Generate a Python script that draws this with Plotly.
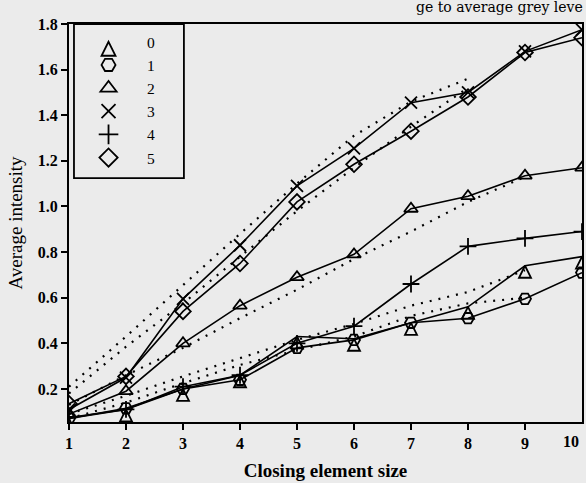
import plotly.graph_objects as go

# ---- data ----
closing_size = [1, 2, 3, 4, 5, 6, 7, 8, 9, 10]
series_names = ["0", "1", "2", "3", "4", "5"]
s0 = [0.07, 0.11, 0.20, 0.26, 0.43, 0.42, 0.49, 0.56, 0.74, 0.78]
s1 = [0.07, 0.115, 0.20, 0.24, 0.38, 0.415, 0.49, 0.51, 0.595, 0.71]
s2 = [0.09, 0.19, 0.40, 0.565, 0.69, 0.79, 0.99, 1.045, 1.135, 1.17]
s3 = [0.11, 0.25, 0.595, 0.83, 1.09, 1.255, 1.455, 1.50, 1.68, 1.775]
s4 = [0.075, 0.11, 0.21, 0.26, 0.40, 0.475, 0.66, 0.825, 0.86, 0.89]
s5 = [0.135, 0.255, 0.54, 0.75, 1.02, 1.185, 1.33, 1.48, 1.675, 1.74]

# dotted (fitted) curves
fit_x_8 = [1, 2, 3, 4, 5, 6, 7, 8]
fit_x_9 = [1, 2, 3, 4, 5, 6, 7, 8, 9]
fit_a = [0.21, 0.43, 0.655, 0.88, 1.10, 1.31, 1.46, 1.56]
fit_b = [0.18, 0.385, 0.575, 0.78, 0.98, 1.17, 1.35, 1.52]
fit_c = [0.13, 0.26, 0.38, 0.51, 0.635, 0.77, 0.89, 1.02, 1.13]
fit_d = [0.09, 0.17, 0.255, 0.335, 0.415, 0.485, 0.565, 0.625, 0.72]
fit_e = [0.07, 0.14, 0.225, 0.305, 0.37, 0.43, 0.52, 0.575, 0.60]

y_ticks = [0.2, 0.4, 0.6, 0.8, 1.0, 1.2, 1.4, 1.6, 1.8]
y_tick_text = ["0.2", "0.4", "0.6", "0.8", "1.0", "1.2", "1.4", "1.6", "1.8"]
x_ticks = closing_size
x_tick_text = [str(v) for v in closing_size]

series = [s0, s1, s2, s3, s4, s5]
symbols = ["arrow-up-open", "hexagon2-open", "triangle-up-open",
           "x-thin-open", "cross-thin-open", "diamond-open"]

FONT = "Liberation Serif"
fig = go.Figure()

dot_style = dict(color="black", width=2.2, dash="2px,7px")
for fx, fy in [(fit_x_8, fit_a), (fit_x_8, fit_b), (fit_x_9, fit_c),
               (fit_x_9, fit_d), (fit_x_9, fit_e)]:
    fig.add_trace(go.Scatter(x=fx, y=fy, mode="lines", line=dot_style,
                             showlegend=False, hoverinfo="skip"))

for name, ys, sym in zip(series_names, series, symbols):
    fig.add_trace(go.Scatter(
        x=closing_size, y=ys, mode="lines+markers", name=name,
        line=dict(color="black", width=1.6),
        marker=dict(symbol=sym, size=12, color="black",
                    line=dict(color="black", width=1.8)),
        showlegend=False, legendgroup=name))
    # legend entry: marker only
    fig.add_trace(go.Scatter(
        x=[None], y=[None], mode="markers", name=name, legendgroup=name,
        marker=dict(symbol=sym, size=14, color="black",
                    line=dict(color="black", width=1.8))))

# caption fragment above the chart
fig.add_annotation(text="ge to average grey leve", xref="paper", yref="paper",
                   x=1.006, y=1, xanchor="right", yanchor="bottom", yshift=7,
                   showarrow=False,
                   font=dict(family="DejaVu Serif", size=14, color="black"))

# last x tick label (sits just left of the right edge in the reference)
fig.add_annotation(text=x_tick_text[-1], xref="x", yref="paper",
                   x=closing_size[-1], y=0, xanchor="right", yanchor="top",
                   xshift=-1, yshift=-9, showarrow=False,
                   font=dict(family=FONT, size=16, weight="bold", color="black"))

# legend frame
fig.add_shape(type="rect", xref="paper", yref="paper",
              x0=0.0097, x1=0.224, y0=0.613, y1=1.0,
              line=dict(color="black", width=1.8), fillcolor="rgba(0,0,0,0)")

fig.update_layout(
    width=586, height=483,
    margin=dict(l=69, r=4, t=24, b=61, autoexpand=False),
    paper_bgcolor="#ebebeb", plot_bgcolor="#ebebeb",
    font=dict(family=FONT, color="black", size=16),
    legend=dict(x=0.002, y=0.997, xanchor="left", yanchor="top",
                bgcolor="rgba(0,0,0,0)", borderwidth=0,
                font=dict(family=FONT, size=15.5), itemwidth=67,
                tracegroupgap=0),
    xaxis=dict(range=[1, 10], tickvals=x_ticks[:-1], ticktext=x_tick_text[:-1],
               showgrid=False, zeroline=False, showline=True, linecolor="black",
               linewidth=2, mirror=True, ticks="outside", ticklen=6,
               tickwidth=1.5, tickcolor="black", automargin=False,
               tickfont=dict(family=FONT, size=16, weight="bold"),
               title=dict(text="Closing element size", standoff=12,
                          font=dict(family=FONT, size=19, weight="bold"))),
    yaxis=dict(range=[0.055, 1.8], tickvals=y_ticks, ticktext=y_tick_text,
               showgrid=False, zeroline=False, showline=True, linecolor="black",
               linewidth=2, mirror=True, ticks="outside", ticklen=6,
               tickwidth=1.5, tickcolor="black", automargin=False,
               tickfont=dict(family=FONT, size=16, weight="bold"),
               title=dict(text="Average intensity", standoff=10,
                          font=dict(family=FONT, size=19))),
)

fig.write_html("out.html", config={"displayModeBar": False},
               post_script="document.body.style.margin='0';document.body.style.padding='0';")
